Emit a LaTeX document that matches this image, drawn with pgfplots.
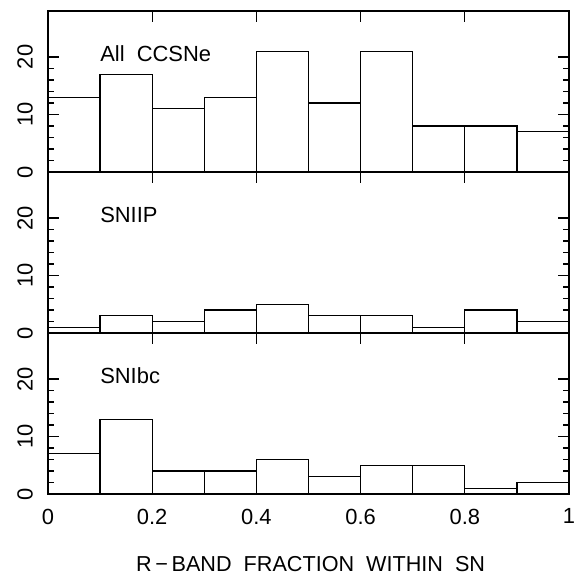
\documentclass[border=0pt]{standalone}
\usepackage{fontspec}
\setmainfont{Liberation Sans}
\usepackage{pgfplots}
\pgfplotsset{compat=1.18}

% histogram counts per bin of width 0.1 (last point repeats the last bin)
\pgfplotsset{
  panel/.style={
    scale only axis,
    width=521bp, height=161bp,
    xmin=0, xmax=1, ymin=0, ymax=28,
    xtick={0,0.2,0.4,0.6,0.8,1},
    ytick={0,10,20},
    minor y tick num=4,
    tick align=inside,
    major tick length=11bp,
    minor tick length=6bp,
    axis line style={line width=1.6bp},
    every tick/.style={black, line width=1.3bp},
    tick label style={font=\fontsize{22}{25}\selectfont},
    /pgf/number format/assume math mode=true,
    yticklabel style={rotate=90, anchor=south, inner sep=0pt},
    yticklabel shift=15bp,
    xticklabel style={anchor=north, inner sep=0pt},
    xticklabel shift=14.5bp,
    clip=false,
  },
  hist/.style={ybar interval, draw=black, fill=none, line width=1.3bp},
}
\tikzset{lbl/.style={anchor=base west, inner sep=0pt, font=\fontsize{22}{25}\selectfont}}

\begin{document}
\begin{tikzpicture}
\begin{axis}[panel, at={(48bp,403bp)}, anchor=south west, xticklabels={}]
\addplot[hist] coordinates {
  (0,13) (0.1,17) (0.2,11) (0.3,13) (0.4,21)
  (0.5,12) (0.6,21) (0.7,8) (0.8,8) (0.9,7) (1,7)
};
\node[lbl] at (axis cs:0.1,19.3) {All\ \ CCSNe};
\end{axis}

\begin{axis}[panel, at={(48bp,242bp)}, anchor=south west, xticklabels={}]
\addplot[hist] coordinates {
  (0,1) (0.1,3) (0.2,2) (0.3,4) (0.4,5)
  (0.5,3) (0.6,3) (0.7,1) (0.8,4) (0.9,2) (1,2)
};
\node[lbl] at (axis cs:0.1,19.3) {SNIIP};
\end{axis}

\begin{axis}[panel, at={(48bp,81bp)}, anchor=south west,
  xticklabels={0,0.2,0.4,0.6,0.8,1}]
\addplot[hist] coordinates {
  (0,7) (0.1,13) (0.2,4) (0.3,4) (0.4,6)
  (0.5,3) (0.6,5) (0.7,5) (0.8,1) (0.9,2) (1,2)
};
\node[lbl] at (axis cs:0.1,19.3) {SNIbc};
\end{axis}

\node[lbl, font=\fontsize{21.7}{25}\selectfont] at (136bp,3.5bp)
  {R\,\textminus\,BAND\ \ FRACTION\ \ WITHIN\ \ SN};

\pgfresetboundingbox
\useasboundingbox (0,0) rectangle (574bp,575bp);
\end{tikzpicture}
\end{document}
